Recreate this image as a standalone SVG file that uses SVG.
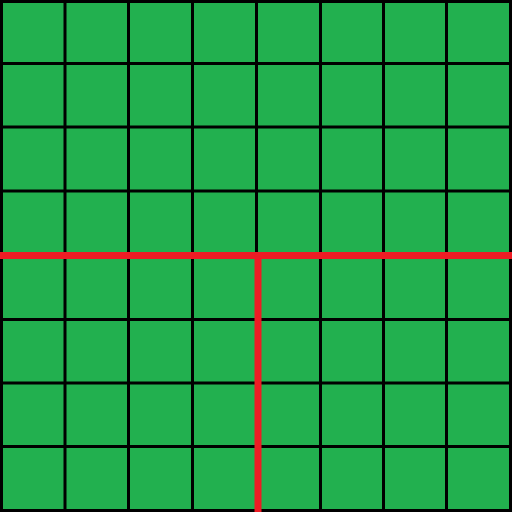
<svg xmlns="http://www.w3.org/2000/svg" width="512" height="512" viewBox="0 0 512 512">
<style>
.g{stroke:#000;stroke-width:3;fill:none}
.r{stroke:#ed1c24;stroke-width:7;fill:none}
</style>
<rect x="0" y="0" width="512" height="512" fill="#22b04f"/>
<g id="grid" class="g">
<path d="M1.5 0V512M65 0V512M128.5 0V512M192.5 0V512M256.5 0V512M320.5 0V512M383.5 0V512M446.5 0V512M510.5 0V512"/>
<path d="M0 1.5H512M0 63.5H512M0 127H512M0 191H512M0 255.5H512M0 319.5H512M0 383H512M0 446.5H512M0 510.5H512"/>
</g>
<g id="red" class="r">
<path d="M0 255.5H512"/>
<path d="M258 255.5V512"/>
</g>
</svg>
